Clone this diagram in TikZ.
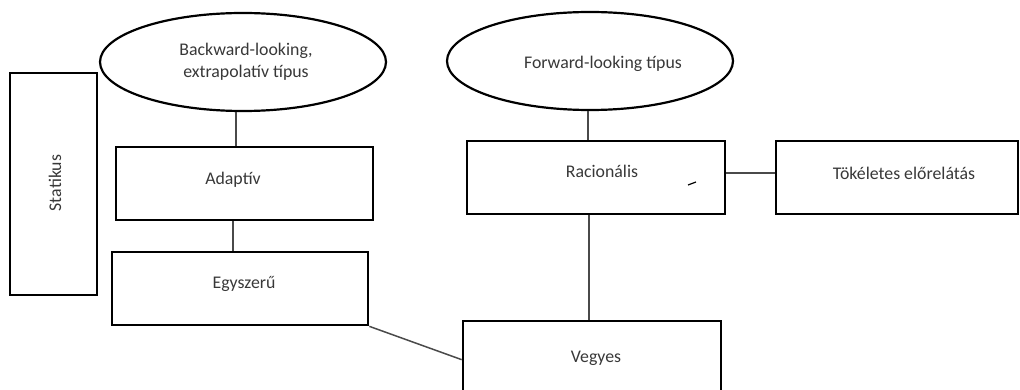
\documentclass[tikz,border=0pt]{standalone}
\usepackage{fontspec}
\setmainfont{Carlito}
\usetikzlibrary{shapes.geometric,calc}
\definecolor{txtgray}{HTML}{383838}
\definecolor{linegray}{HTML}{4A4A4A}
\tikzset{
  box/.style={draw=black, line width=2.7pt, rectangle, inner sep=0pt},
  oval/.style={draw=black, line width=2.2pt, ellipse, inner sep=0pt, minimum width=286pt, minimum height=98pt},
  lbl/.style={text=txtgray, font=\fontsize{17.8}{21.5}\selectfont, inner sep=0pt},
  conn/.style={draw=linegray, line width=1.5pt}
}
\begin{document}
\begin{tikzpicture}[x=1pt,y=-1pt]
\useasboundingbox (0,0) rectangle (1020,390);
% ellipses
\node[oval] (e1) at (243,62) {};
\node[lbl, align=center] (e1t) at (246,62) {Backward-looking,\\extrapolatív típus};
\node[oval] (e2) at (590,61) {};
\node[lbl] (e2t) at (603,64) {Forward-looking típus};
% boxes
\node[box, minimum width=87pt, minimum height=222pt] (st) at (53.5,184) {};
\node[lbl, rotate=90] (stt) at (55,183) {Statikus};
\node[box, minimum width=257pt, minimum height=73pt] (ad) at (244.5,183.5) {};
\node[lbl] (adt) at (233,180) {Adaptív};
\node[box, minimum width=256pt, minimum height=73pt] (eg) at (240,288.5) {};
\node[lbl] (egt) at (244,284) {Egyszerű};
\node[box, minimum width=258pt, minimum height=73pt] (rac) at (596,177.5) {};
\node[lbl] (ract) at (602,171) {Racionális};
\node[box, minimum width=242pt, minimum height=73pt] (tok) at (897,177.5) {};
\node[lbl] (tokt) at (904,173) {Tökéletes előrelátás};
\node[box, minimum width=258pt, minimum height=72pt] (veg) at (592,357) {};
\node[lbl] (vegt) at (596,358) {Vegyes};
% connectors
\coordinate (c1) at ($(e1.south)+(-7,0)$);
\draw[conn] (c1) -- (c1 |- ad.north);
\coordinate (c2) at ($(ad.south)+(-11.5,0)$);
\draw[conn] (c2) -- (c2 |- eg.north);
\coordinate (c3) at ($(e2.south)+(-2,0)$);
\draw[conn] (c3) -- (c3 |- rac.north);
\coordinate (c4) at ($(rac.south)+(-7,0)$);
\draw[conn] (c4) -- (c4 |- veg.north);
\coordinate (c5) at ($(rac.east)+(0,-4.5)$);
\draw[conn] (c5) -- (c5 -| tok.west);
\coordinate (c6) at ($(veg.north west)+(0,40)$);
\draw[conn] (eg.south east) -- (c6);
% small stray mark
\draw[line width=1.2pt, black] (688,185) -- (696,182);
\end{tikzpicture}
\end{document}
